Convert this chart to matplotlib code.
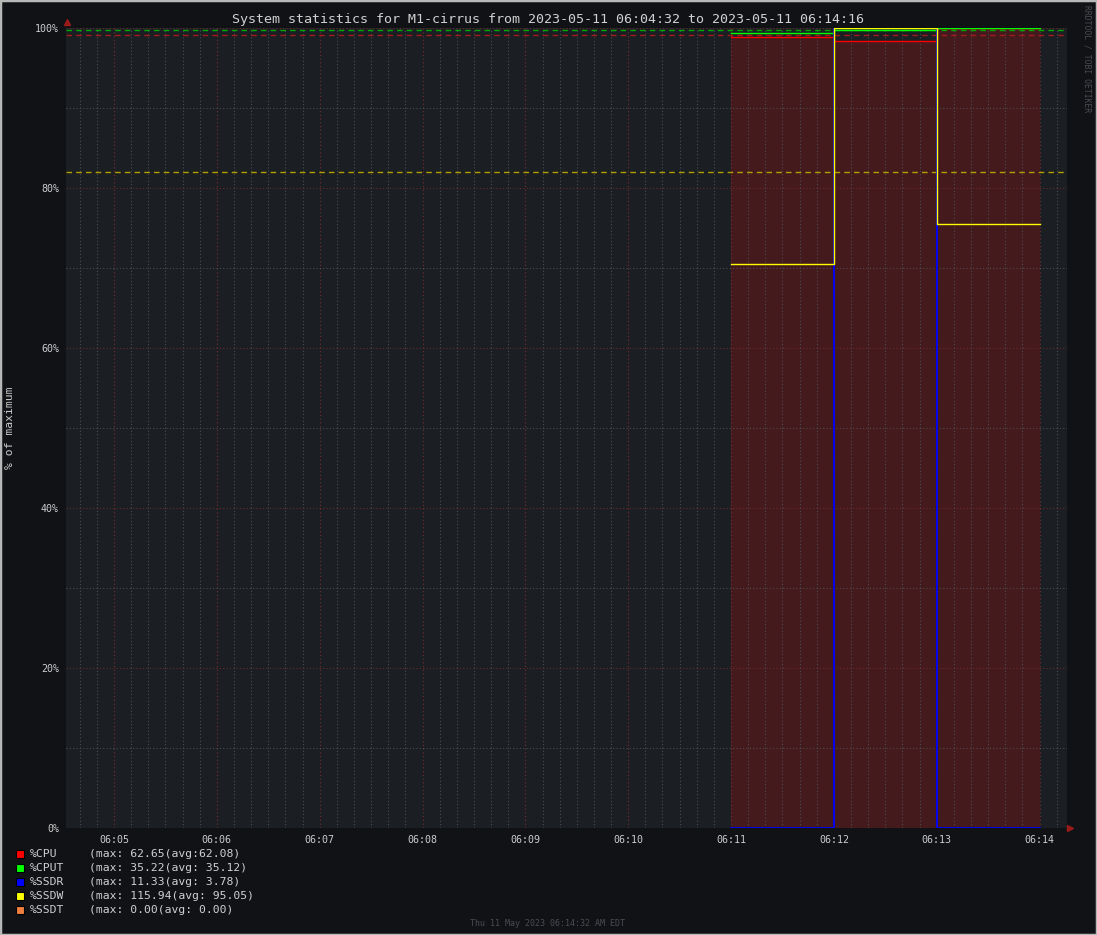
import matplotlib
matplotlib.use("Agg")
import matplotlib.pyplot as plt
from matplotlib.patches import Rectangle
import numpy as np

# ---- data (minutes after 06:00) ----
step_times = [11, 12, 13, 14]          # 06:11 .. 06:14
cpu_pct = [98.84, 98.40, 100.0]        # % of maximum
cput_pct = [99.34, 99.70, 99.96]
ssdr_pct = [0.0, 100.0, 0.0]
ssdw_pct = [70.5, 100.0, 75.5]

series_names = ["%CPU", "%CPUT", "%SSDR", "%SSDW", "%SSDT"]
series_max = [62.65, 35.22, 11.33, 115.94, 0.00]
series_avg = [62.08, 35.12, 3.78, 95.05, 0.00]
legend_stats = ["(max: 62.65(avg:62.08)", "(max: 35.22(avg: 35.12)",
                "(max: 11.33(avg: 3.78)", "(max: 115.94(avg: 95.05)",
                "(max: 0.00(avg: 0.00)"]
series_colors = ["#ff0000", "#00ff00", "#0000ff", "#ffff00", "#f08040"]

x_start = 4 + 32 / 60   # 06:04:32
x_end = 14 + 16 / 60    # 06:14:16
tick_minutes = list(range(5, 15))
tick_labels = ["06:%02d" % m for m in tick_minutes]
ytick_vals = [0, 20, 40, 60, 80, 100]
ytick_labels = ["0%", "20%", "40%", "60%", "80%", "100%"]

title = "System statistics for M1-cirrus from 2023-05-11 06:04:32 to 2023-05-11 06:14:16"
footer = "Thu 11 May 2023 06:14:32 AM EDT"

# ---- styling ----
W, H = 1097, 935
BG = "#111216"
PLOTBG = "#1b1e22"
TXT = "#cccccc"
MINOR = "#4a4d52"
MAJOR = "#6a2c30"
FILL = "#451a1d"
MONO = "DejaVu Sans Mono"

fig = plt.figure(figsize=(W / 100, H / 100), dpi=100, facecolor=BG)

L, R, T, B = 66, 1067, 28, 828
ax = fig.add_axes([L / W, 1 - B / H, (R - L) / W, (B - T) / H])
ax.set_facecolor(PLOTBG)
ax.set_xlim(x_start, x_end)
ax.set_ylim(0, 100)
for s in ax.spines.values():
    s.set_visible(False)
ax.tick_params(length=0, colors=TXT, labelsize=7)

def ext(v):
    return list(v) + [v[-1]]

# CPU area
ax.fill_between(step_times, 0, ext(cpu_pct), step="post", color=FILL, lw=0, zorder=1)

# grids
dot = (0, (1, 2))
minor_x = np.arange(np.ceil(x_start * 6) / 6, x_end, 1 / 6)
for xv in minor_x:
    if abs(xv - round(xv)) > 1e-6:
        ax.axvline(xv, color=MINOR, lw=0.8, ls=dot, zorder=2)
for m in tick_minutes:
    ax.axvline(m, color=MAJOR, lw=0.9, ls=dot, zorder=2)
for yv in [10, 30, 50, 70, 90]:
    ax.axhline(yv, color=MINOR, lw=0.8, ls=dot, zorder=2)
for yv in ytick_vals:
    ax.axhline(yv, color=MAJOR, lw=0.8, ls=dot, zorder=2)

# average rules (% of maximum)
avg_colors = ["#a01c1c", "#00a800", None, "#b0a000", None]
for i, c in enumerate(avg_colors):
    if c is None or series_max[i] == 0:
        continue
    ax.axhline(series_avg[i] / series_max[i] * 100, color=c, lw=1.0,
               dashes=(4, 3), zorder=3)

# lines
ax.plot(step_times, ext(cpu_pct), drawstyle="steps-post", color=series_colors[0], lw=1.0, zorder=4)
ax.plot(step_times, ext(cput_pct), drawstyle="steps-post", color=series_colors[1], lw=1.0, zorder=4)
ax.plot(step_times, ext(ssdr_pct), drawstyle="steps-post", color=series_colors[2], lw=1.3, zorder=4)
ax.plot(step_times, ext(ssdw_pct), drawstyle="steps-post", color=series_colors[3], lw=1.0, zorder=5)

ax.set_xticks(tick_minutes)
ax.set_xticklabels(tick_labels, fontfamily=MONO, fontsize=7.2, color=TXT)
ax.set_yticks(ytick_vals)
ax.set_yticklabels(ytick_labels, fontfamily=MONO, fontsize=7.2, color=TXT)
ax.tick_params(axis="x", pad=5)
ax.tick_params(axis="y", pad=5)

# arrows
ax.plot([x_start + 0.005], [100.8], marker="^", color="#9a1a1a", ms=4, clip_on=False, zorder=6)
ax.plot([x_end + 0.03], [0], marker=">", color="#9a1a1a", ms=4, clip_on=False, zorder=6)

def fx(px):
    return px / W

def fy(py):
    return 1 - py / H

fig.text(fx(548), fy(19), title, fontfamily=MONO, fontsize=9.6, color="#d0d0d0",
         ha="center", va="center")
fig.text(fx(10), fy(428), "% of maximum", fontfamily=MONO, fontsize=8.2, color=TXT,
         rotation=90, ha="center", va="center")
fig.text(fx(1087), fy(5), "RRDTOOL / TOBI OETIKER", fontfamily=MONO, fontsize=5.8,
         color="#4a4c52", rotation=270, ha="center", va="top")
fig.text(fx(548), fy(924), footer, fontfamily=MONO, fontsize=6, color="#4a4c52",
         ha="center", va="center")

# legend
for i, name in enumerate(series_names):
    yc = 854 + 14 * i
    fig.patches.append(Rectangle((fx(15.5), fy(yc + 4)), 8 / W, 8 / H,
                                 transform=fig.transFigure, facecolor=series_colors[i],
                                 edgecolor="#000000", lw=0.8))
    fig.text(fx(30), fy(yc), name, fontfamily=MONO, fontsize=8.2, color="#d0d0d0",
             ha="left", va="center")
    fig.text(fx(89), fy(yc), legend_stats[i], fontfamily=MONO, fontsize=8.2,
             color="#d0d0d0", ha="left", va="center")

# frame
fig.patches.append(Rectangle((0, 0), 1, 1, transform=fig.transFigure, fill=False,
                             edgecolor="#b8b8b8", lw=2.5))

fig.savefig("out.png", dpi=100, facecolor=BG)
